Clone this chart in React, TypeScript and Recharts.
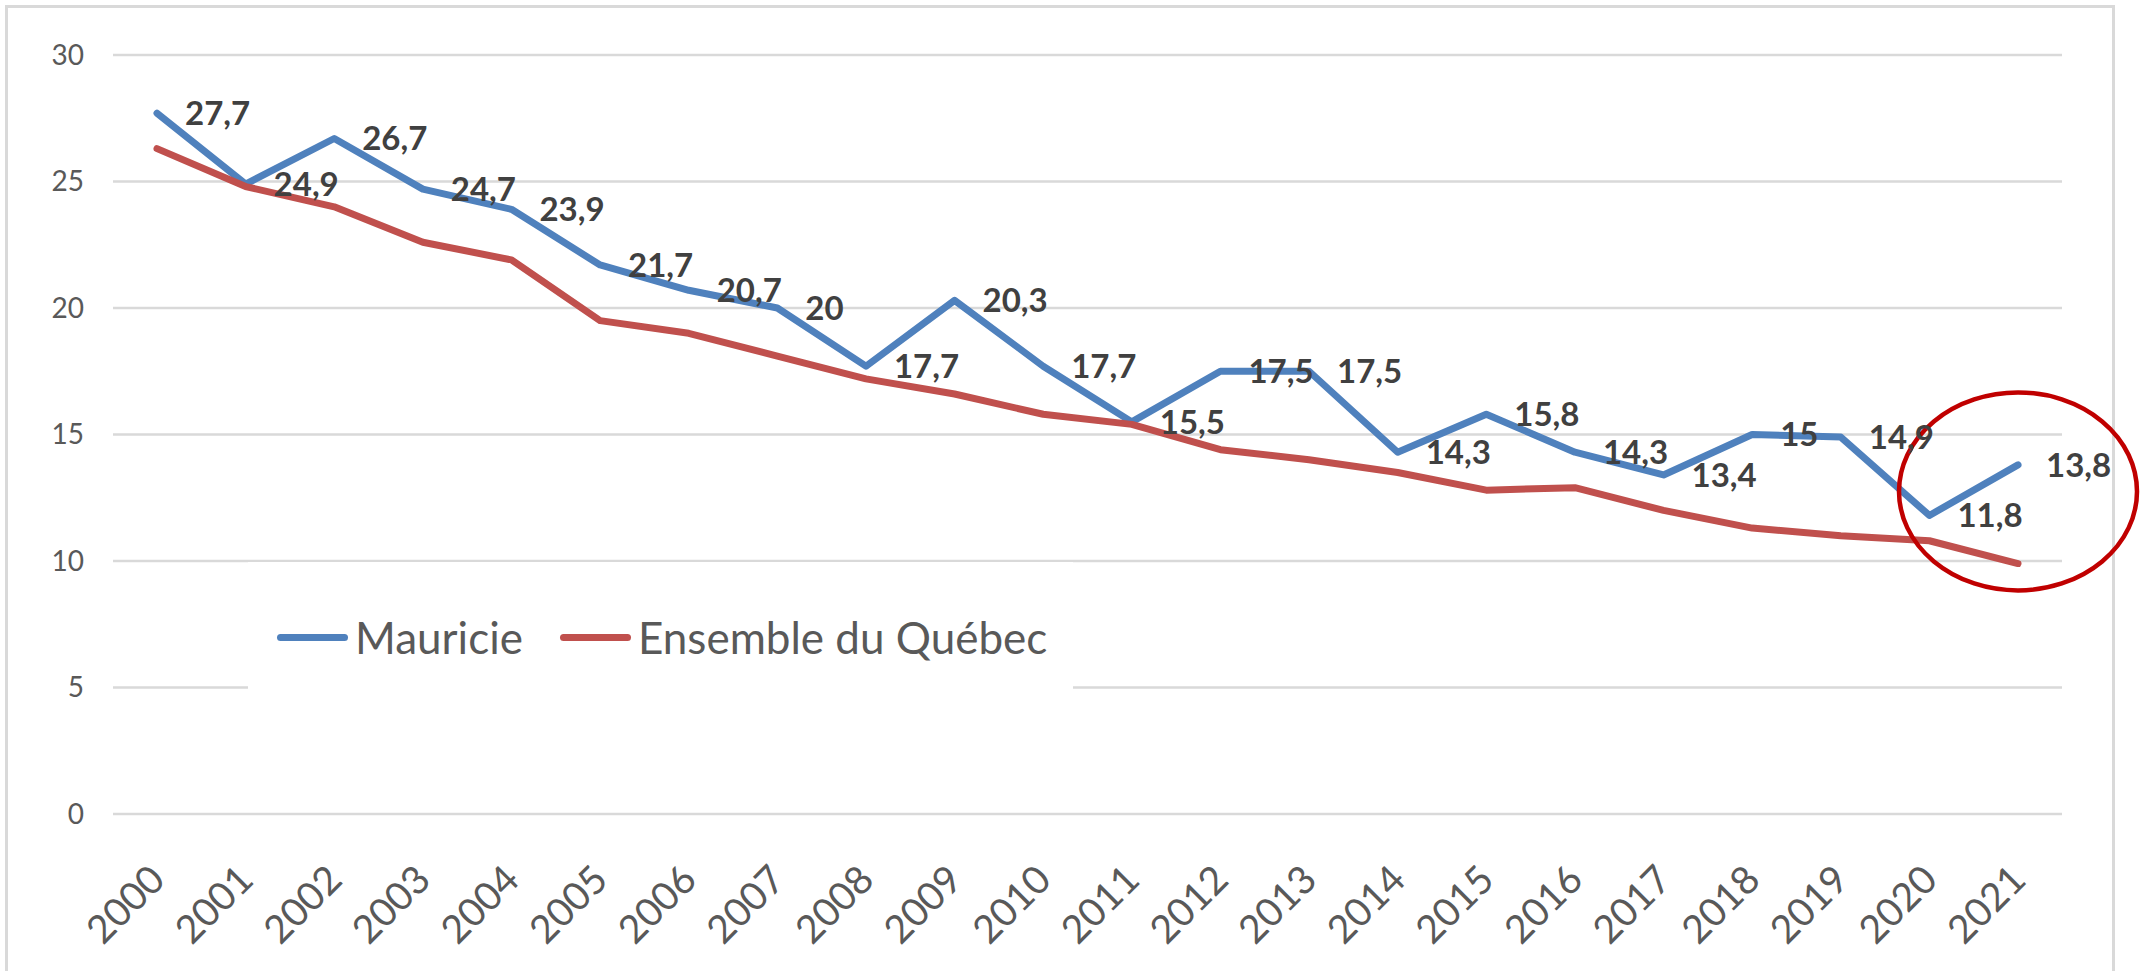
import React from 'react';
import { LineChart, Line, XAxis, YAxis, CartesianGrid, LabelList, ReferenceDot } from 'recharts';

const years = [
  '2000', '2001', '2002', '2003', '2004', '2005', '2006', '2007', '2008', '2009', '2010',
  '2011', '2012', '2013', '2014', '2015', '2016', '2017', '2018', '2019', '2020', '2021',
];

const mauricie = [
  27.7, 24.9, 26.7, 24.7, 23.9, 21.7, 20.7, 20, 17.7, 20.3, 17.7,
  15.5, 17.5, 17.5, 14.3, 15.8, 14.3, 13.4, 15, 14.9, 11.8, 13.8,
];

const quebec = [
  26.3, 24.8, 24.0, 22.6, 21.9, 19.5, 19.0, 18.1, 17.2, 16.6, 15.8,
  15.4, 14.4, 14.0, 13.5, 12.8, 12.9, 12.0, 11.3, 11.0, 10.8, 9.9,
];

const yTicks = [0, 5, 10, 15, 20, 25, 30];

// the red circle drawn around the last two years
const highlightYear = '2021';
const highlightValue = 12.75;

const data = years.map((year, i) => ({ year, mauricie: mauricie[i], quebec: quebec[i] }));

const BLUE = '#4F81BD';
const RED = '#C0504D';
const GRAY = '#595959';

const fmt = (v: any) => String(v).replace('.', ',');

const XTick = (props: any) => {
    const { x, y, payload } = props;
    const tx = x + 10;
    const ty = y + 68;
    return (
        <text x={tx} y={ty} transform={`rotate(-45, ${tx}, ${ty})`} textAnchor="end" fill={GRAY} fontSize={39}>
            {payload.value}
        </text>
    );
};

const LegendItem: React.FC<{ color: string, label: string, left: number }> = ({ color, label, left }) => (
    <div style={{ position: 'absolute', left, top: 0, height: 150, display: 'flex', alignItems: 'center' }}>
        <div style={{ width: 71, height: 7, borderRadius: 4, background: color, marginRight: 7 }} />
        <span style={{ fontSize: 44, color: GRAY, lineHeight: 1 }}>{label}</span>
    </div>
);

const App = () => {
    return (
        <div style={{ position: 'absolute', left: 0, top: 0, width: 2141, height: 971, background: '#fff', overflow: 'hidden', fontFamily: 'Lato, sans-serif' }}>
            <div style={{ position: 'absolute', left: 5, top: 5, width: 2110, height: 1000, border: '3px solid #D9D9D9', boxSizing: 'border-box' }} />

            <LineChart
                width={2141}
                height={971}
                data={data}
                margin={{ top: 55, right: 79, left: 0, bottom: 0 }}
                style={{ position: 'absolute', left: 0, top: 0 }}
            >
                <CartesianGrid vertical={false} stroke="#D9D9D9" strokeWidth={2.5} />
                <XAxis
                    dataKey="year"
                    height={157}
                    padding={{ left: 44, right: 44 }}
                    axisLine={false}
                    tickLine={false}
                    tickSize={0}
                    tickMargin={0}
                    interval={0}
                    tick={<XTick />}
                />
                <YAxis
                    domain={[0, 30]}
                    ticks={yTicks}
                    width={113}
                    axisLine={false}
                    tickLine={false}
                    tickSize={0}
                    tickMargin={29}
                    tick={{ fill: GRAY, fontSize: 28 }}
                />
                <Line type="linear" dataKey="mauricie" stroke={BLUE} strokeWidth={7} strokeLinecap="round" strokeLinejoin="round" dot={false} activeDot={false} isAnimationActive={false} />
                <Line type="linear" dataKey="quebec" stroke={RED} strokeWidth={7} strokeLinecap="round" strokeLinejoin="round" dot={false} activeDot={false} isAnimationActive={false} />
                {/* labels only, so they sit above both lines */}
                <Line type="linear" dataKey="mauricie" stroke="none" dot={false} activeDot={false} isAnimationActive={false}>
                    <LabelList dataKey="mauricie" position="right" offset={28} formatter={fmt} fill="#404040" fontSize={33} fontWeight="bold" />
                </Line>
                <ReferenceDot
                    x={highlightYear}
                    y={highlightValue}
                    r={10}
                    ifOverflow="visible"
                    shape={(p: any) => (
                        <ellipse cx={p.cx} cy={p.cy} rx={119} ry={99} fill="none" stroke="#C00000" strokeWidth={4.5} />
                    )}
                />
            </LineChart>

            <div style={{ position: 'absolute', left: 248, top: 562, width: 825, height: 150, background: '#fff' }}>
                <LegendItem color={BLUE} label="Mauricie" left={29} />
                <LegendItem color={RED} label="Ensemble du Québec" left={312} />
            </div>
        </div>
    );
};

export default App;
